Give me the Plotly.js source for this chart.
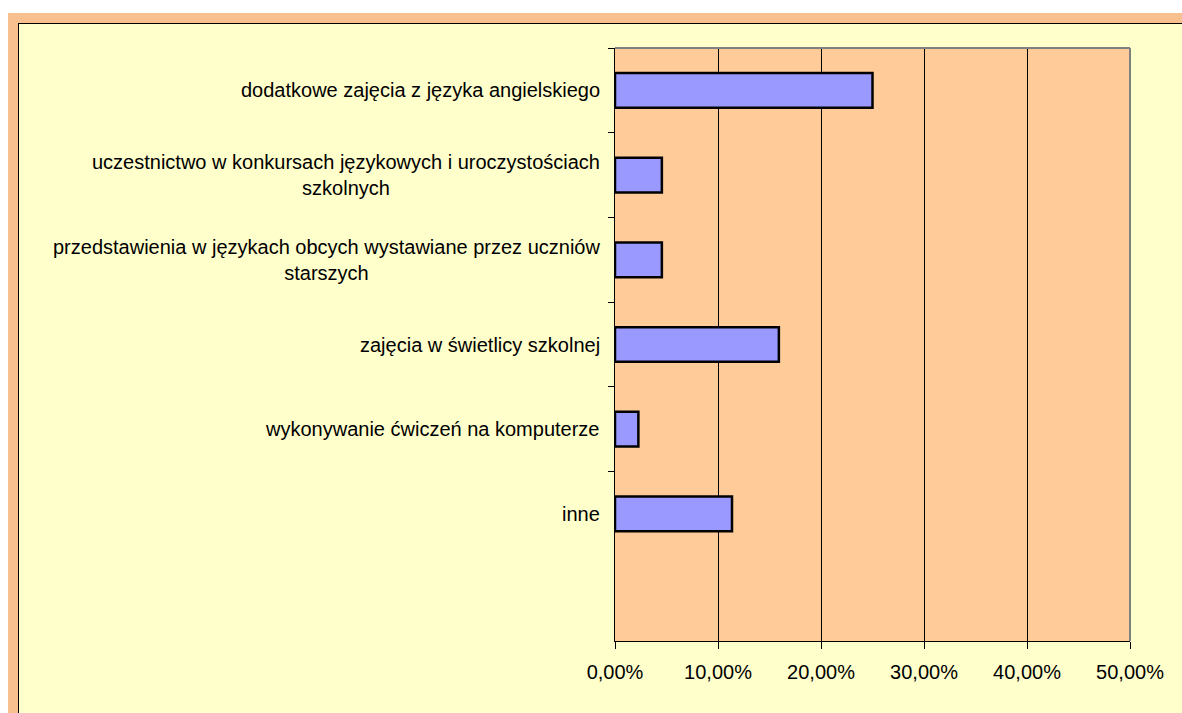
<!DOCTYPE html>
<html>
<head>
<meta charset="utf-8">
<script src="https://cdn.plot.ly/plotly-3.0.1.min.js"></script>
<style>
  body { margin: 0; background: #ffffff; }
  #frame { position: absolute; left: 8px; top: 13px; width: 1174px; height: 700px; background: #f9c08f; }
  #inner { position: absolute; left: 18px; top: 23px; width: 1164px; height: 690px; border-left: 1px solid #000; border-top: 1px solid #000; background: #ffffcc; }
  #chart { position: absolute; left: 19px; top: 24px; width: 1163px; height: 689px; }
</style>
</head>
<body>
<div id="frame"></div>
<div id="inner"></div>
<div id="chart"></div>
<script>
var categories = [
  "dodatkowe zajęcia z języka angielskiego",
  "uczestnictwo w konkursach językowych i uroczystościach<br>szkolnych",
  "przedstawienia w językach obcych wystawiane przez uczniów<br>starszych",
  "zajęcia w świetlicy szkolnej",
  "wykonywanie ćwiczeń na komputerze",
  "inne"
];
var shares = [0.25, 0.0455, 0.0455, 0.1591, 0.0227, 0.1136];
var xTicks = [0, 0.1, 0.2, 0.3, 0.4, 0.5];

var FONT = "Liberation Sans, Arial, sans-serif";

var data = [
  {
    type: "bar",
    orientation: "h",
    x: shares,
    y: categories,
    width: 0.41,
    marker: { color: "#9999ff", line: { color: "#000000", width: 2.5 } },
    hoverinfo: "x+y"
  }
];

var labels = categories.map(function(name) {
  return {
    xref: "paper",
    yref: "y",
    x: 0,
    y: name,
    xanchor: "right",
    yanchor: "middle",
    xshift: -13,
    align: "center",
    showarrow: false,
    text: name,
    font: { family: FONT, size: 20, color: "#000000" }
  };
});

var layout = {
  width: 1163,
  height: 689,
  margin: { l: 596, r: 52, t: 24, b: 72 },
  paper_bgcolor: "#ffffcc",
  plot_bgcolor: "#ffcc99",
  separators: ", ",
  showlegend: false,
  font: { family: FONT, size: 20, color: "#000000" },
  xaxis: {
    range: [0, 0.5],
    tickvals: xTicks,
    tickformat: ".2%",
    showgrid: true,
    gridcolor: "#000000",
    gridwidth: 1,
    zeroline: false,
    showline: true,
    linecolor: "#000000",
    linewidth: 1,
    ticks: "outside",
    ticklen: 7,
    tickcolor: "#000000",
    ticklabelstandoff: 6,
    tickfont: { family: FONT, size: 20, color: "#000000" }
  },
  yaxis: {
    type: "category",
    categoryorder: "array",
    categoryarray: categories,
    range: [6.5, -0.5],
    tickson: "boundaries",
    showticklabels: false,
    showgrid: false,
    zeroline: false,
    showline: true,
    linecolor: "#000000",
    linewidth: 1,
    ticks: "outside",
    ticklen: 6,
    tickcolor: "#000000"
  },
  shapes: [
    { type: "line", xref: "paper", yref: "paper", x0: 0, x1: 1, y0: 1, y1: 1, line: { color: "#808080", width: 2 } },
    { type: "line", xref: "paper", yref: "paper", x0: 1, x1: 1, y0: 0, y1: 1, line: { color: "#808080", width: 2 } }
  ],
  annotations: labels
};

Plotly.newPlot("chart", data, layout, { displayModeBar: false });
</script>
</body>
</html>
